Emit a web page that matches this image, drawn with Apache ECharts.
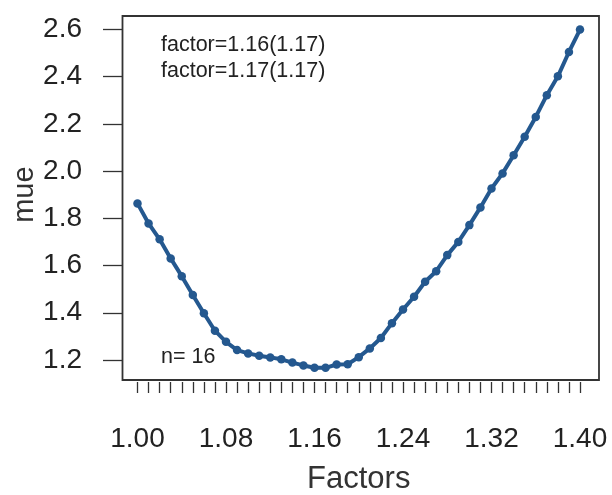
<!DOCTYPE html>
<html><head><meta charset="utf-8">
<script src="https://cdn.jsdelivr.net/npm/echarts@6/dist/echarts.min.js"></script>
<style>html,body{margin:0;padding:0;background:#fff}#c{width:612px;height:495px}</style>
</head><body><div id="c"></div>
<script>
const factors = [1.00,1.01,1.02,1.03,1.04,1.05,1.06,1.07,1.08,1.09,1.10,1.11,1.12,1.13,1.14,1.15,1.16,1.17,1.18,1.19,1.20,1.21,1.22,1.23,1.24,1.25,1.26,1.27,1.28,1.29,1.30,1.31,1.32,1.33,1.34,1.35,1.36,1.37,1.38,1.39,1.40];
const mue = [1.863,1.778,1.711,1.630,1.555,1.475,1.398,1.324,1.277,1.242,1.228,1.218,1.211,1.203,1.189,1.177,1.167,1.167,1.181,1.182,1.212,1.249,1.293,1.356,1.414,1.468,1.531,1.576,1.644,1.700,1.771,1.846,1.926,1.990,2.067,2.145,2.229,2.321,2.401,2.504,2.599];
const annotations = ["factor=1.16(1.17)", "factor=1.17(1.17)"];
const nLabel = "n= 16";
const xTitle = "Factors";
const yTitle = "mue";

const chart = echarts.init(document.getElementById('c'), null, {renderer:'canvas'});
const font = '"Liberation Sans", Arial, sans-serif';
const small = '21.5px "Liberation Sans", Arial, sans-serif';
chart.setOption({
  animation:false,
  backgroundColor:'#fff',
  grid:{left:137.5, top:29.3, width:442.5, height:330.7, containLabel:false, outerBoundsMode:'none'},
  xAxis:{type:'value', min:1.00, max:1.40, interval:0.08,
    offset:22,
    axisLine:{show:false},
    axisTick:{show:true, inside:false, length:11, lineStyle:{color:'#333', width:1.3}},
    minorTick:{show:true, splitNumber:8, length:11, lineStyle:{color:'#333', width:1.3}},
    splitLine:{show:false}, minorSplitLine:{show:false},
    axisLabel:{fontFamily:font, fontSize:28, color:'#222', margin:43, formatter:v=>v.toFixed(2)},
    name:xTitle, nameLocation:'middle', nameGap:82, nameMoveOverlap:false,
    nameTextStyle:{fontFamily:font, fontSize:31, color:'#333'}
  },
  yAxis:{type:'value', min:1.2, max:2.6, interval:0.2,
    offset:15.5,
    axisLine:{show:false},
    axisTick:{show:true, inside:false, length:19, lineStyle:{color:'#333', width:1.3}},
    splitLine:{show:false},
    axisLabel:{fontFamily:font, fontSize:28, color:'#222', margin:40, formatter:v=>v.toFixed(1)},
    name:yTitle, nameLocation:'middle', nameGap:83, nameRotate:90, nameMoveOverlap:false,
    nameTextStyle:{fontFamily:font, fontSize:29, color:'#333'}
  },
  graphic:[
    {type:'rect', shape:{x:122.5, y:16, width:476.5, height:364}, style:{fill:'none', stroke:'#333', lineWidth:1.8}, z:0, silent:true},
    {type:'text', x:161, y:45, style:{text:annotations[0], font:small, fill:'#222', verticalAlign:'middle'}},
    {type:'text', x:161, y:71, style:{text:annotations[1], font:small, fill:'#222', verticalAlign:'middle'}},
    {type:'text', x:161, y:357, style:{text:nLabel, font:small, fill:'#222', verticalAlign:'middle'}}
  ],
  series:[{type:'line', data:factors.map((f,i)=>[f, mue[i]]), clip:false,
    symbol:'circle', symbolSize:8.5, showSymbol:true,
    lineStyle:{color:'#24588f', width:4}, itemStyle:{color:'#24588f'}}]
});
</script></body></html>
